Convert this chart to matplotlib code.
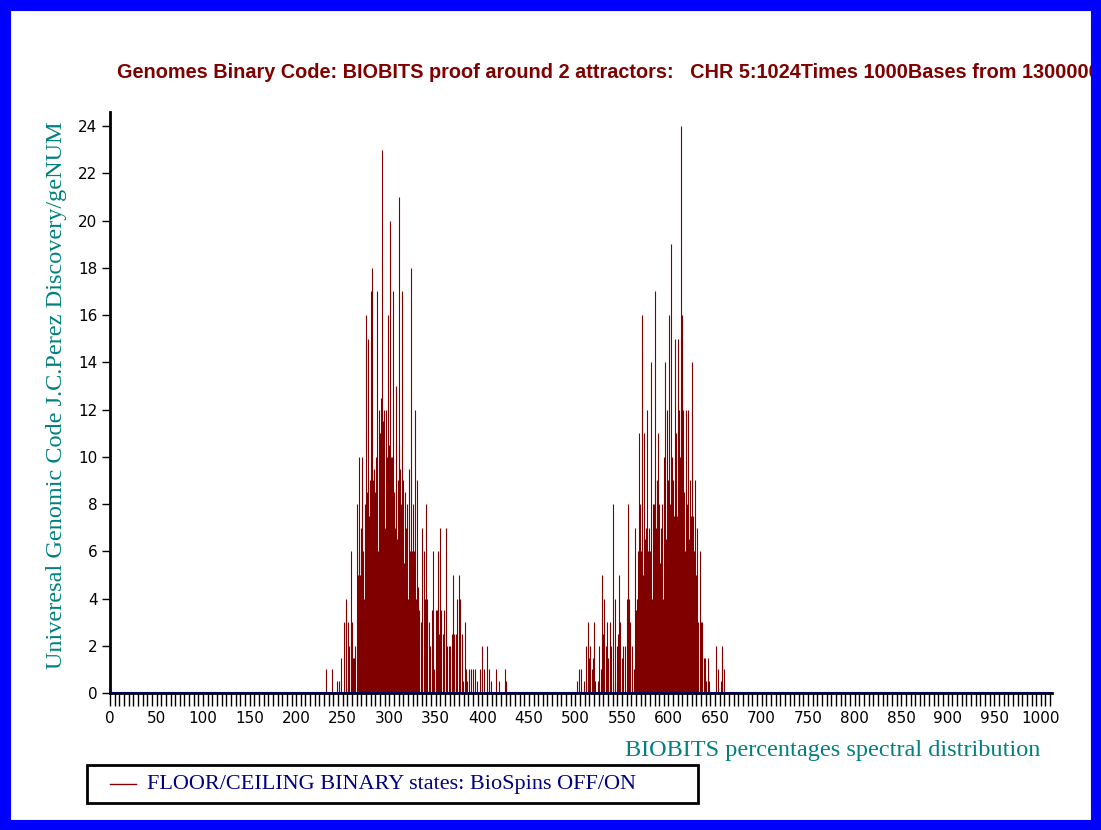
import matplotlib
matplotlib.use("Agg")
import matplotlib.pyplot as plt
from matplotlib.patches import Rectangle
from matplotlib.lines import Line2D
from matplotlib.ticker import MultipleLocator

# attractor around 300 (x position, count)
peak1_x = [232, 238, 244, 246, 248, 251, 253, 254, 256, 257, 259, 260, 261, 262, 263,
           265, 266, 267, 268, 269, 270, 271, 272, 273, 274, 275, 276, 277, 278, 279,
           280, 281, 282, 283, 284, 285, 286, 287, 288, 289, 290, 291, 292, 293, 294,
           295, 296, 297, 298, 299, 300, 301, 302, 303, 304, 305, 306, 307, 308, 309,
           310, 311, 312, 313, 314, 315, 316, 317, 318, 319, 320, 321, 322, 323, 324,
           325, 326, 327, 328, 329, 330, 331, 332, 334, 335, 337, 338, 340, 341, 343,
           344, 346, 347, 348, 350, 351, 352, 353, 355, 356, 358, 359, 361, 362, 364,
           365, 367, 369, 370, 372, 373, 375, 376, 378, 379, 381, 382, 383, 386, 388,
           390, 392, 394, 398, 400, 402, 405, 407, 409, 415, 418, 424, 425]
peak1_y = [1, 1, 0.5, 0.5, 1.5, 3, 4, 3.5, 3, 2, 6, 3, 1.5, 1.5, 2,
           8, 5, 6, 10, 5, 7, 10, 6, 4, 8, 16, 8.5, 15, 7.5, 9,
           17, 9.5, 18, 9, 9.5, 8.5, 10, 17, 6, 12, 11, 12.5, 23, 11.5, 12,
           7, 12, 2, 10, 16, 10.5, 20, 10, 10, 17, 8.5, 7, 13, 6.5, 9,
           10.5, 21, 9.5, 8, 17, 9, 5.5, 8.5, 7, 8, 4, 9.5, 6, 18, 6,
           8, 5, 6, 12, 4, 9, 4.5, 3.5, 3, 7, 6, 4, 8, 4, 3,
           2, 3.5, 6, 1, 3.5, 3.5, 6, 2.5, 7, 3.5, 2.5, 3.5, 7, 2, 2,
           2, 2.5, 5, 2.5, 2.5, 4, 5, 4, 2.5, 0.5, 3, 1, 0.5, 1, 1,
           1, 1, 0.5, 1, 2, 1, 2, 1, 0.5, 1, 0.5, 1, 0.5]

# attractor around 600
peak2_x = [502, 504, 506, 509, 511, 513, 514, 515, 516, 518, 519, 520, 521, 524, 525,
           527, 529, 530, 531, 533, 534, 535, 537, 538, 540, 542, 543, 545, 546, 547,
           548, 550, 551, 553, 555, 556, 558, 559, 561, 563, 564, 565, 566, 567, 568,
           569, 570, 571, 572, 573, 574, 575, 576, 577, 578, 579, 580, 581, 582, 583,
           584, 585, 586, 587, 588, 589, 590, 591, 592, 593, 594, 595, 596, 597, 598,
           599, 600, 601, 602, 603, 604, 605, 606, 607, 608, 609, 610, 611, 612, 613,
           614, 615, 616, 617, 618, 619, 620, 621, 622, 623, 624, 625, 626, 627, 628,
           629, 630, 631, 632, 634, 635, 636, 638, 639, 640, 642, 644, 651, 653, 656,
           657, 658, 660]
peak2_y = [0.5, 1, 1, 0.5, 2, 1.5, 3, 1.5, 2, 1, 1.5, 3, 0.5, 0.5, 2,
           1, 5, 2.5, 4, 2, 3, 1.5, 3, 2, 8, 4, 0.5, 2, 2.5, 5,
           3, 1.5, 2, 2, 4, 8, 4, 3, 2, 1, 7, 3.5, 4, 6, 11,
           8, 6, 16, 5.5, 5, 11, 6.5, 7, 12, 6, 7, 6, 14, 4, 8,
           8, 9, 17, 7, 9, 11, 8, 5.5, 7, 8, 4, 10, 14, 6.5, 12,
           8, 9, 16, 8, 19, 10, 9, 7.5, 15, 11, 7.5, 15, 12, 10, 24,
           13, 16, 12, 8.5, 6, 12, 8, 12, 6.5, 9, 7.5, 14, 7.5, 6, 9,
           4.5, 5, 7, 3, 6, 3, 3, 1.5, 1.5, 0.5, 1.5, 0.5, 2, 1, 0.5,
           1.5, 2, 1]

title = ("Genomes Binary Code: BIOBITS proof around 2 attractors:   "
         "CHR 5:1024Times 1000Bases from 1300000")
ylabel = "Univeresal Genomic Code J.C.Perez Discovery/geNUM"
xlabel = "BIOBITS percentages spectral distribution"
legend_text = "FLOOR/CEILING BINARY states: BioSpins OFF/ON"

BAR = "#800000"
TEAL = "#008080"

W, H = 1101, 830
fig = plt.figure(figsize=(W / 100, H / 100), dpi=100)

def fx(px):
    return px / W

def fy(py):
    return 1 - py / H

ax = fig.add_axes([fx(110), fy(693), fx(1052) - fx(110), fy(112) - fy(693)])
ax.vlines(peak1_x + peak2_x, 0, peak1_y + peak2_y, color=BAR, linewidth=0.8)
ax.axhline(0, color="#000060", linewidth=1.5, zorder=3)

ax.set_xlim(0, 1012)
ax.set_ylim(0, 24.6)
ax.xaxis.set_ticks(list(range(0, 1001, 50)))
ax.xaxis.set_minor_locator(MultipleLocator(5))
ax.yaxis.set_major_locator(MultipleLocator(2))
ax.tick_params(axis="x", which="both", direction="out", length=9, width=1,
               labelsize=11, pad=4)
ax.tick_params(axis="y", which="major", direction="out", length=6, width=1,
               labelsize=11, pad=3)
for lab in ax.get_xticklabels() + ax.get_yticklabels():
    lab.set_family("DejaVu Sans")

for s in ["top", "right"]:
    ax.spines[s].set_visible(False)
ax.spines["left"].set_linewidth(2)
ax.spines["bottom"].set_linewidth(2)

fig.text(fx(117), fy(72), title, color=BAR, fontsize=14.3, fontweight="bold",
         family="Liberation Sans", ha="left", va="center")
fig.text(fx(57), fy(395), ylabel, color=TEAL, fontsize=17.5, family="Liberation Serif",
         rotation=90, ha="center", va="center")
fig.text(fx(1040), fy(750), xlabel, color=TEAL, fontsize=17.5, family="Liberation Serif",
         ha="right", va="center")

# legend box
fig.patches.append(Rectangle((fx(87), fy(803)), fx(698) - fx(87), fy(765) - fy(803),
                             transform=fig.transFigure, fill=False,
                             edgecolor="black", linewidth=2))
fig.lines.append(Line2D([fx(110), fx(136)], [fy(784), fy(784)],
                        transform=fig.transFigure, color=BAR, linewidth=1))
fig.text(fx(147), fy(784), legend_text, color="#000080", fontsize=16,
         family="Liberation Serif", ha="left", va="center")

# blue frame
fig.patches.append(Rectangle((fx(5), fy(825)), fx(1091), fy(5) - fy(825),
                             transform=fig.transFigure, fill=False,
                             edgecolor="#0000FF", linewidth=8, zorder=10))
fig.patches.append(Rectangle((fx(1091), 0), fx(10), 1, transform=fig.transFigure,
                             facecolor="#0000FF", edgecolor="none", zorder=10))

fig.savefig("out.png", dpi=100)
